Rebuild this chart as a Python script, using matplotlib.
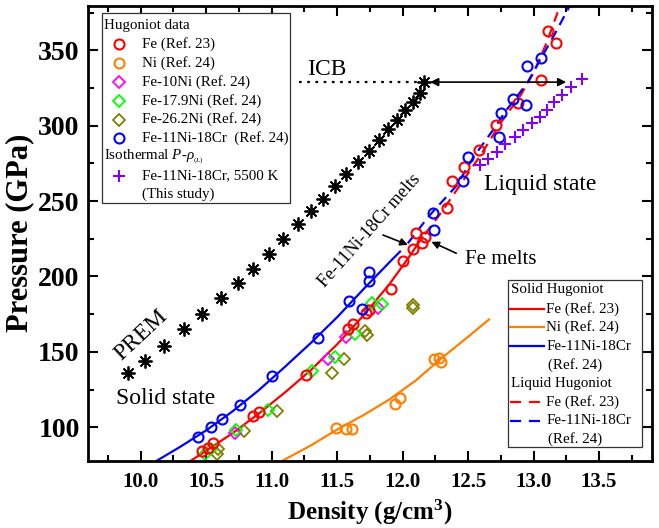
import numpy as np
import matplotlib.pyplot as plt
from matplotlib.patches import Rectangle
from matplotlib.ticker import MultipleLocator

plt.rcParams['font.family'] = ['Liberation Serif', 'DejaVu Serif']
plt.rcParams['mathtext.fontset'] = 'custom'
plt.rcParams['mathtext.rm'] = 'Liberation Serif'
plt.rcParams['mathtext.it'] = 'Liberation Serif:italic'
plt.rcParams['mathtext.bf'] = 'Liberation Serif:bold'

# ---- Hugoniot data (density g/cm3, pressure GPa) ----
fe_d = [10.47, 10.51, 10.55, 10.86, 10.90, 11.26, 11.58, 11.62, 11.72, 11.74,
        11.91, 12.00, 12.08, 12.15, 12.10, 12.17, 12.34, 12.38, 12.47, 12.58,
        12.71, 12.88, 13.06, 13.17, 13.11]
fe_p = [84.0, 86.5, 89.5, 107.5, 110.0, 135.0, 165.0, 168.5, 175.5, 178.0,
        192.0, 210.5, 218.5, 222.5, 229.0, 226.5, 245.5, 263.0, 272.5, 284.0,
        300.5, 315.0, 330.0, 355.0, 363.0]

ni_d = [11.49, 11.57, 11.61, 11.94, 11.98, 12.24, 12.28, 12.29]
ni_p = [99.5, 98.7, 99.0, 115.5, 119.5, 145.0, 146.0, 143.0]

fe10ni_d = [10.72, 11.43, 11.57, 11.81]
fe10ni_p = [96.0, 145.0, 160.0, 179.0]

fe179ni_d = [10.49, 10.54, 10.73, 10.97, 11.31, 11.48, 11.64, 11.77, 11.84]
fe179ni_p = [82.0, 85.5, 98.2, 111.5, 137.0, 146.5, 162.0, 182.5, 181.5]

fe262ni_d = [10.58, 10.59, 10.79, 11.04, 11.46, 11.55, 11.71, 11.73, 12.08, 12.08]
fe262ni_p = [82.5, 85.5, 97.5, 110.5, 136.0, 145.5, 164.0, 161.0, 181.0, 179.0]

cr_d = [10.44, 10.54, 10.62, 10.76, 11.00, 11.35, 11.59, 11.69, 11.74, 11.74,
        12.24, 12.23, 12.46, 12.50, 12.74, 12.75, 12.84, 12.94, 12.95, 13.06]
cr_p = [93.5, 100.0, 105.5, 115.0, 134.0, 159.5, 183.5, 178.5, 203.0, 197.0,
        231.0, 242.0, 263.0, 279.5, 292.5, 308.5, 317.5, 313.5, 339.5, 345.0]

# isothermal P-rho, Fe-11Ni-18Cr at 5500 K (this study)
iso_d = [12.59, 12.65, 12.72, 12.78, 12.86, 12.92, 12.99, 13.05, 13.10, 13.16,
         13.22, 13.29, 13.37]
iso_p = [274.0, 278.0, 282.6, 287.9, 292.5, 297.1, 301.8, 305.8, 310.4, 315.7,
         320.4, 325.7, 331.0]

# PREM outer core
prem_d = [9.904, 10.03, 10.18, 10.33, 10.47, 10.61, 10.74, 10.86, 10.98, 11.09,
          11.20, 11.30, 11.39, 11.48, 11.57, 11.66, 11.74, 11.82, 11.89, 11.96,
          12.02, 12.08, 12.13, 12.166]
prem_p = [135.8, 143.8, 154.2, 165.0, 175.2, 185.5, 195.5, 205.3, 215.2, 224.9,
          234.8, 243.3, 251.5, 260.0, 268.0, 275.8, 283.3, 290.5, 297.5, 304.0,
          310.2, 316.0, 322.0, 328.9]

# ---- fitted Hugoniot curves ----
fe_sol_d = [10.38, 10.50, 10.70, 10.90, 11.10, 11.30, 11.50, 11.70, 11.90, 12.05, 12.15]
fe_sol_p = [77.7, 84.5, 96.0, 109.0, 123.0, 138.0, 155.0, 174.0, 195.0, 213.0, 226.0]

ni_fit_d = [11.08, 11.30, 11.50, 11.70, 11.90, 12.10, 12.30, 12.50, 12.66]
ni_fit_p = [77.7, 88.0, 98.5, 108.0, 118.5, 131.0, 146.0, 160.0, 171.5]

cr_sol_d = [10.12, 10.30, 10.50, 10.70, 10.90, 11.10, 11.30, 11.50, 11.70, 11.90, 11.98]
cr_sol_p = [77.7, 87.0, 98.0, 110.5, 124.5, 140.0, 156.0, 173.0, 191.5, 209.5, 216.5]

fe_liq_d = [12.17, 12.30, 12.45, 12.60, 12.75, 12.90, 13.00, 13.10, 13.20]
fe_liq_p = [228.0, 243.0, 262.0, 281.0, 302.0, 320.0, 335.0, 355.0, 379.0]

cr_liq_d = [12.04, 12.20, 12.41, 12.54, 12.69, 12.79, 12.95, 13.06, 13.17, 13.28]
cr_liq_p = [222.0, 240.0, 260.0, 279.0, 297.0, 310.0, 328.0, 345.0, 362.0, 380.0]

icb_p = 328.9

RED = '#ff0000'
ORANGE = '#ff8000'
MAGENTA = '#ff00ff'
GREEN = '#00ff00'
OLIVE = '#808000'
BLUE = '#0000ff'
PURPLE = '#8000ff'
STAR = (8, 2, 0)

fig = plt.figure(figsize=(6.59, 5.28), dpi=100)
ax = fig.add_axes([88/659, 1 - 461/528, 564/659, 455.5/528])

lw = 1.6
ax.plot(fe_sol_d, fe_sol_p, color=RED, lw=lw)
ax.plot(ni_fit_d, ni_fit_p, color=ORANGE, lw=lw)
ax.plot(cr_sol_d, cr_sol_p, color=BLUE, lw=lw)
ax.plot(fe_liq_d, fe_liq_p, color=RED, lw=lw, dashes=(4.5, 3))
ax.plot(cr_liq_d, cr_liq_p, color=BLUE, lw=lw, dashes=(4.5, 3))

circ = dict(ls='none', mfc='none', ms=7.2, mew=1.5)
diam = dict(ls='none', mfc='none', ms=6.0, mew=1.3)
ax.plot(ni_d, ni_p, 'o', mec=ORANGE, **circ)
ax.plot(fe262ni_d, fe262ni_p, 'D', mec=OLIVE, **diam)
ax.plot(fe10ni_d, fe10ni_p, 'D', mec=MAGENTA, **diam)
ax.plot(fe179ni_d, fe179ni_p, 'D', mec=GREEN, **diam)
ax.plot(fe_d, fe_p, 'o', mec=RED, **circ)
ax.plot(cr_d, cr_p, 'o', mec=BLUE, **circ)
ax.plot(iso_d, iso_p, '+', color=PURPLE, ls='none', ms=9, mew=1.5)
ax.plot(prem_d, prem_p, marker=STAR, color='black', ls='none', ms=10, mew=1.3)

# ICB line and arrow
ax.plot([11.21, prem_d[-1]], [icb_p, icb_p], color='black', lw=1.6, dashes=(1.2, 2.5))
ax.annotate('', xy=(13.25, icb_p), xytext=(12.21, icb_p),
            arrowprops=dict(arrowstyle='<|-|>', color='black', lw=1.2,
                            mutation_scale=12, shrinkA=0, shrinkB=0))
ax.annotate('', xy=(12.04, 221.0), xytext=(11.85, 227.5),
            arrowprops=dict(arrowstyle='-|>', color='black', lw=1.2,
                            mutation_scale=11, shrinkA=0, shrinkB=0))
ax.annotate('', xy=(12.22, 223.0), xytext=(12.41, 215.4),
            arrowprops=dict(arrowstyle='-|>', color='black', lw=1.2,
                            mutation_scale=11, shrinkA=0, shrinkB=0))

ax.text(11.42, 337, 'ICB', fontsize=17, ha='center', va='center')
ax.text(13.05, 261, 'Liquid state', fontsize=17, ha='center', va='center')
ax.text(10.19, 119, 'Solid state', fontsize=17, ha='center', va='center')
ax.text(12.75, 211, 'Fe melts', fontsize=15, ha='center', va='center')
ax.text(10.0, 161, 'PREM', fontsize=17, ha='center', va='center',
        rotation=43, rotation_mode='anchor')
ax.text(11.75, 230, 'Fe-11Ni-18Cr melts', fontsize=13, ha='center', va='center',
        rotation=48.5, rotation_mode='anchor')

ax.set_xlim(9.597, 13.905)
ax.set_ylim(77.65, 379.7)
ax.set_xticks(np.arange(10.0, 13.51, 0.5))
ax.set_yticks(np.arange(100, 351, 50))
ax.xaxis.set_minor_locator(MultipleLocator(0.25))
ax.yaxis.set_minor_locator(MultipleLocator(25))
ax.set_xticklabels(['%.1f' % v for v in np.arange(10.0, 13.51, 0.5)])
ax.tick_params(which='both', direction='in', top=True, right=True, width=1.5)
ax.tick_params(which='major', length=7)
ax.tick_params(which='minor', length=4)
ax.tick_params(axis='x', labelsize=15, pad=8)
ax.tick_params(axis='y', labelsize=20, pad=6)
for lab in ax.get_xticklabels() + ax.get_yticklabels():
    lab.set_fontweight('bold')
for sp in ax.spines.values():
    sp.set_linewidth(2)

ax.set_xlabel(r'Density (g/cm$^{\mathbf{3}}$)', fontsize=18, fontweight='bold', labelpad=4)
ax.set_ylabel('Pressure (GPa)', fontsize=22, fontweight='bold', labelpad=3)

# ---- legends drawn by hand (pixel layout of the reference) ----
def fx(px):
    return (px - 88) / 564

def fy(py):
    return (461 - py) / 455.5

LFS = 10.8

def box(x0, y0, x1, y1):
    ax.add_patch(Rectangle((fx(x0), fy(y1)), fx(x1) - fx(x0), fy(y0) - fy(y1),
                           transform=ax.transAxes, fill=True, fc='white',
                           ec='#333333', lw=0.9, zorder=5))

def txt(px, py, s):
    ax.text(fx(px), fy(py), s, transform=ax.transAxes, fontsize=LFS,
            ha='left', va='center', zorder=6)

box(102, 13, 290, 203)
rows1 = [25.5 + 18.8 * i for i in range(10)]
txt(104, rows1[0], 'Hugoniot data')
leg1 = [('o', RED, 'Fe (Ref. 23)'), ('o', ORANGE, 'Ni (Ref. 24)'),
        ('D', MAGENTA, 'Fe-10Ni (Ref. 24)'), ('D', GREEN, 'Fe-17.9Ni (Ref. 24)'),
        ('D', OLIVE, 'Fe-26.2Ni (Ref. 24)'), ('o', BLUE, 'Fe-11Ni-18Cr  (Ref. 24)')]
for i, (m, c, s) in enumerate(leg1):
    st = circ if m == 'o' else diam
    ax.plot([fx(118.5)], [fy(rows1[i + 1])], m, mec=c, transform=ax.transAxes,
            clip_on=False, zorder=6, **st)
    txt(141.5, rows1[i + 1], s)
txt(104, rows1[7], r'Isothermal $P$-$\rho_{_{(L)}}$')
ax.plot([fx(118.5)], [fy(rows1[8])], '+', color=PURPLE, ms=9, mew=1.5,
        transform=ax.transAxes, clip_on=False, zorder=6)
txt(141.5, rows1[8], 'Fe-11Ni-18Cr, 5500 K')
txt(141.5, rows1[9], '(This study)')

box(508, 280, 642, 447)
rows2 = [290 + 18.67 * i for i in range(9)]
txt(511, rows2[0], 'Solid Hugoniot')
txt(511, rows2[5], 'Liquid Hugoniot')
leg2 = [(1, RED, None, 'Fe (Ref. 23)'), (2, ORANGE, None, 'Ni (Ref. 24)'),
        (3, BLUE, None, 'Fe-11Ni-18Cr'), (6, RED, (5, 3.5), 'Fe (Ref. 23)'),
        (7, BLUE, (5, 3.5), 'Fe-11Ni-18Cr')]
for r, c, ds, s in leg2:
    kw = dict(dashes=ds) if ds else {}
    ax.plot([fx(510), fx(544)], [fy(rows2[r])] * 2, color=c, lw=lw,
            transform=ax.transAxes, clip_on=False, zorder=6, **kw)
    txt(546.5, rows2[r], s)
txt(548, rows2[4], '(Ref. 24)')
txt(548, rows2[8], '(Ref. 24)')

fig.savefig('out.png', dpi=100)
